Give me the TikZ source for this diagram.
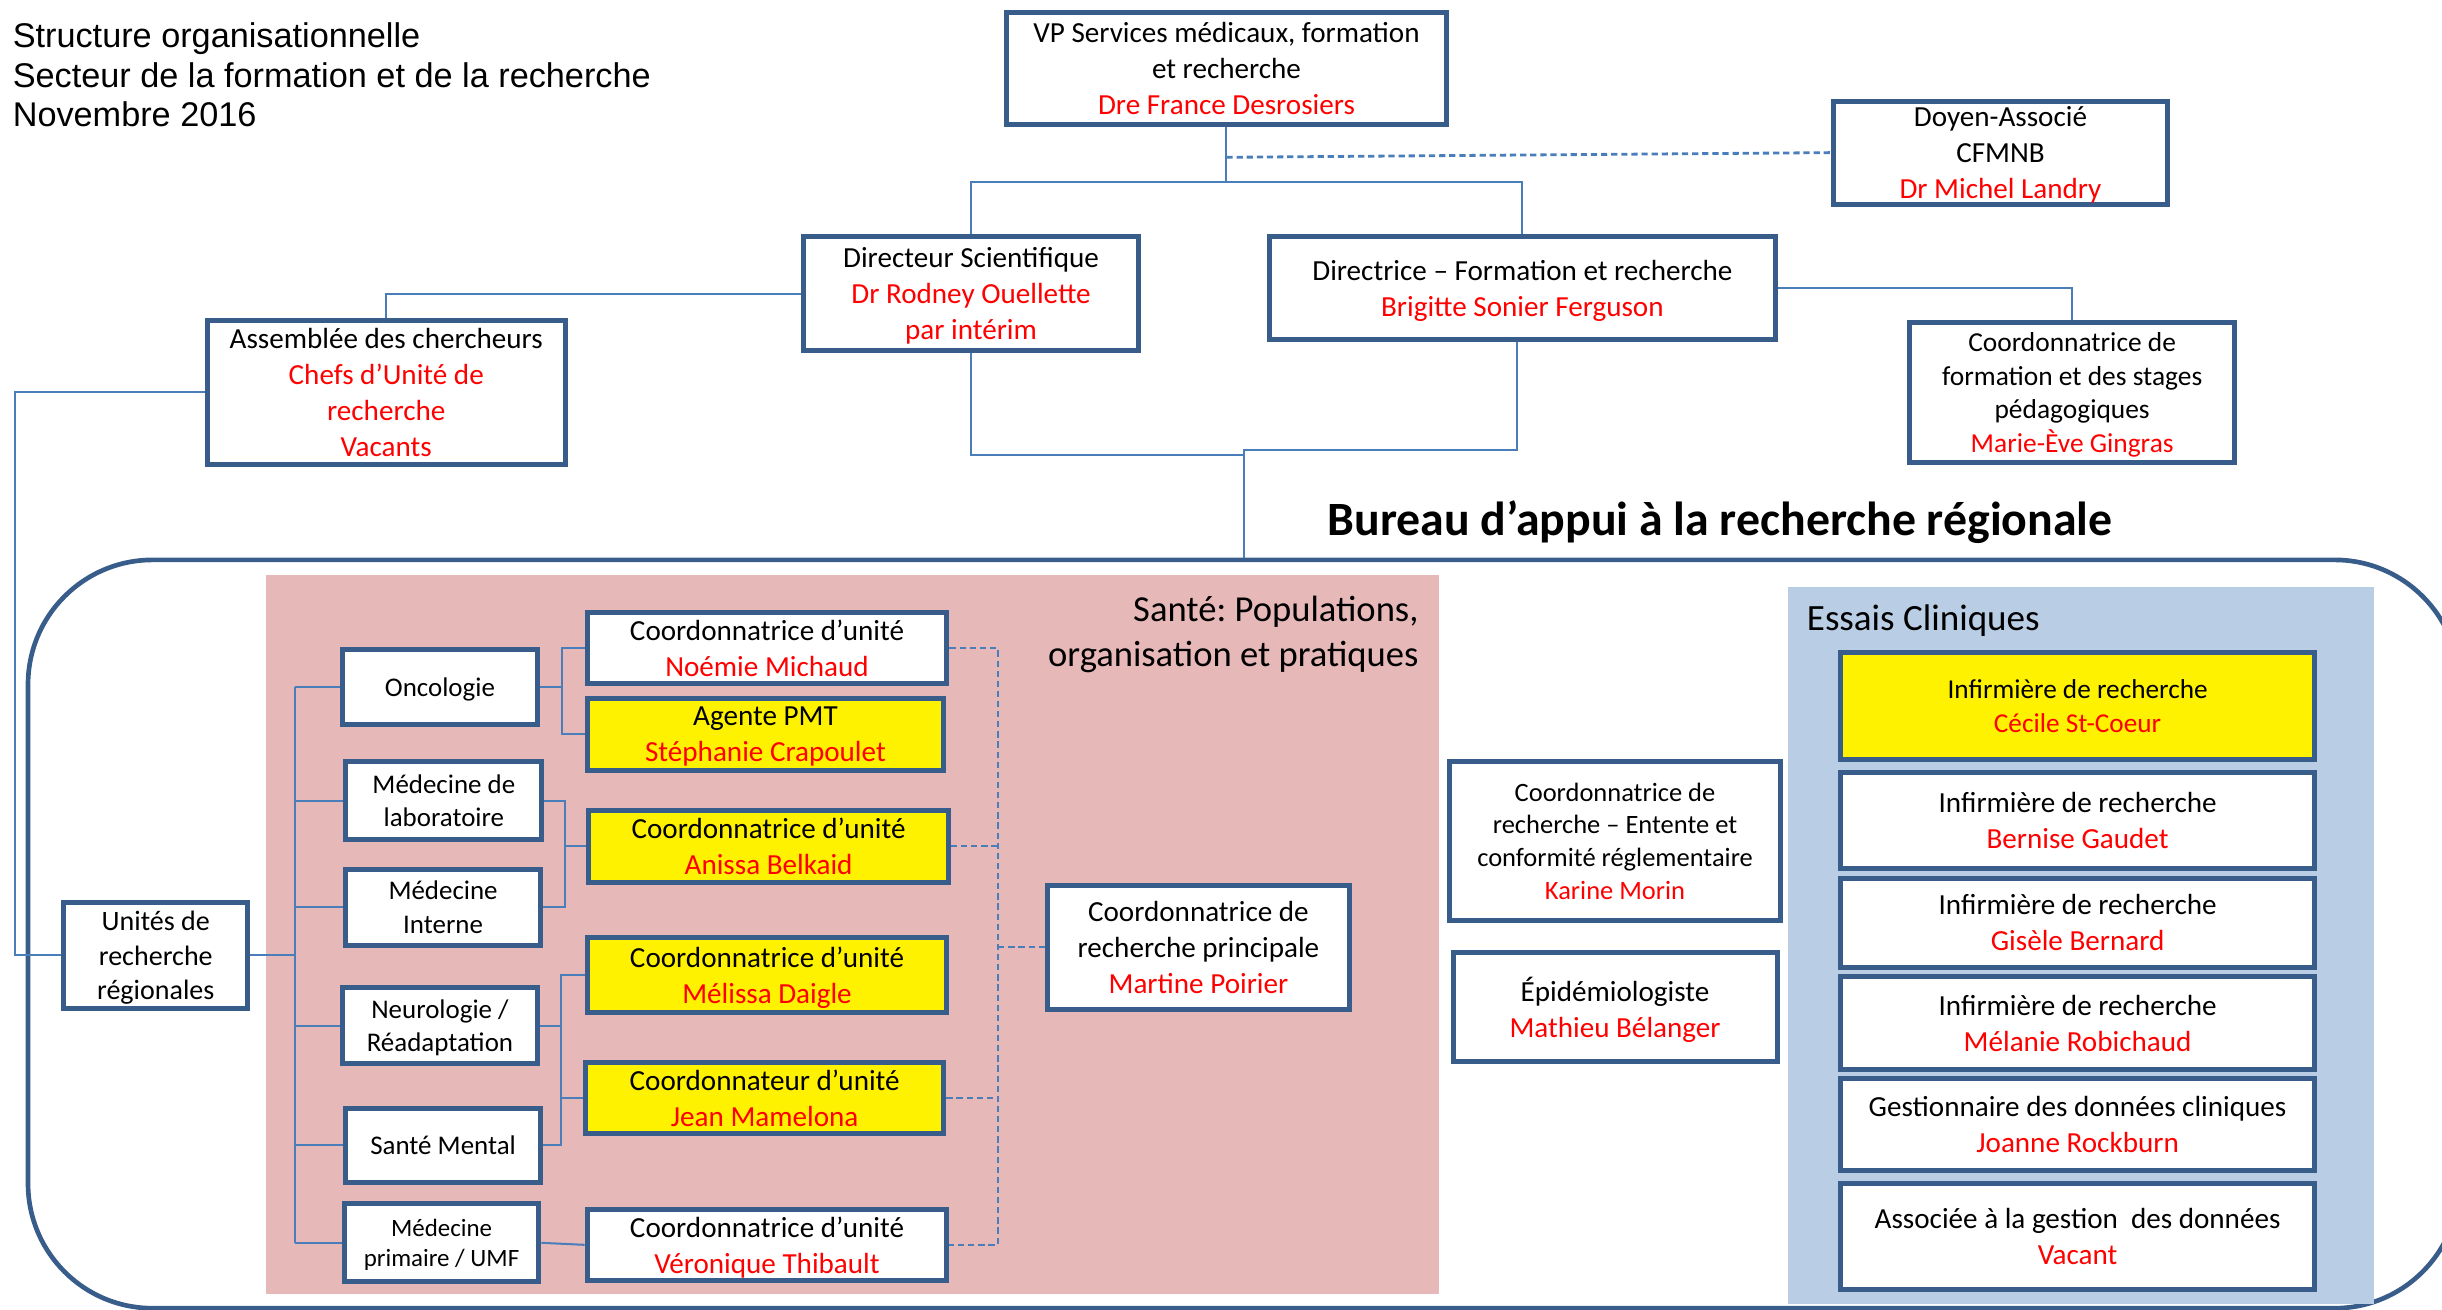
\documentclass[tikz,border=0pt]{standalone}
\usepackage{fontspec}
\setmainfont{Carlito}
\newfontfamily\arialf{Liberation Sans}
\definecolor{bordc}{HTML}{385D8A}
\definecolor{connc}{HTML}{4A7EBB}
\definecolor{pinkc}{HTML}{E6B9B8}
\definecolor{bluec}{HTML}{B9CDE5}
\newcommand{\nm}[1]{\textcolor{red}{#1}}
\pgfdeclarelayer{panel}
\pgfdeclarelayer{lines}
\pgfsetlayers{panel,lines,main}
\begin{document}
\frenchspacing
\begin{tikzpicture}[x=1pt,y=-1pt,
  basebox/.style={draw=bordc,line width=3.2pt,fill=white,inner sep=0pt,align=center,font=\fontsize{18.7}{23}\selectfont},
  box/.style={basebox,text depth=-5pt},
  sbox/.style={basebox,font=\fontsize{17.3}{21.5}\selectfont,text depth=-1pt},
  ybox/.style={box,fill=yellow},
  lbox/.style={box,font=\fontsize{17.3}{21.5}\selectfont},
  conn/.style={draw=connc,line width=1.3pt},
  dconn/.style={conn,dash pattern=on 4pt off 2.5pt},
]
\useasboundingbox (0,0) rectangle (1568,841);

% title
\node[anchor=west,align=left,inner sep=0pt,font=\arialf\fontsize{22}{25.5}\selectfont] (title) at (8,48)
  {Structure organisationnelle\\Secteur de la formation et de la recherche\\Novembre 2016};

% top boxes
\node[box,minimum width=283pt,minimum height=72pt] (vp) at (787.5,44)
  {VP Services médicaux, formation\\et recherche\\\nm{Dre France Desrosiers}};
\node[box,minimum width=215pt,minimum height=66pt] (doyen) at (1284.5,98)
  {Doyen-Associé\\CFMNB\\\nm{Dr Michel Landry}};
\node[box,minimum width=215pt,minimum height=73pt] (dirsci) at (623.5,188.5)
  {Directeur Scientifique\\\nm{Dr Rodney Ouellette}\\\nm{par intérim}};
\node[box,minimum width=325pt,minimum height=66pt] (dirf) at (977.5,185)
  {Directrice – Formation et recherche\\\nm{Brigitte Sonier Ferguson}};
\node[box,minimum width=230pt,minimum height=92pt] (assem) at (248,252)
  {Assemblée des chercheurs\\\nm{Chefs d’Unité de}\\\nm{recherche}\\\nm{Vacants}};
\node[box,minimum width=209pt,minimum height=90pt,font=\fontsize{17.6}{21.5}\selectfont] (coordf) at (1330.5,252)
  {Coordonnatrice de\\formation et des stages\\pédagogiques\\\nm{Marie-Ève Gingras}};

% bureau
\begin{pgfonlayer}{panel}
\node[draw=bordc,line width=3pt,rounded corners=80pt,minimum width=1561pt,minimum height=480.5pt,inner sep=0pt] (bureau) at (798.5,599.75) {};
\node[fill=pinkc,minimum width=753pt,minimum height=462pt,inner sep=0pt] (sante) at (547.5,600) {};
\node[fill=bluec,minimum width=376pt,minimum height=460pt,inner sep=0pt] (essais) at (1336,607) {};
\end{pgfonlayer}
\node[font=\bfseries\fontsize{30.7}{36}\selectfont,inner sep=0pt] (btitle) at (1104.5,335) {Bureau d’appui à la recherche régionale};
\node[anchor=east,align=right,inner sep=0pt,font=\fontsize{23.5}{29}\selectfont] (santetitle) at (911,407.5)
  {Santé: Populations,\\organisation et pratiques};
\node[anchor=west,inner sep=0pt,font=\fontsize{23.8}{29}\selectfont] (essaistitle) at (1160,398.5) {Essais Cliniques};

% left column
\node[lbox,font=\fontsize{18}{22}\selectfont,minimum width=118pt,minimum height=68pt] (unites) at (100,613.5)
  {Unités de\\recherche\\régionales};
\node[sbox,minimum width=125pt,minimum height=48pt] (onco) at (282.5,441) {Oncologie};
\node[lbox,minimum width=126pt,minimum height=50pt] (medlab) at (285,514) {Médecine de\\laboratoire};
\node[lbox,minimum width=125pt,minimum height=49pt] (medint) at (284.5,582.5) {Médecine\\Interne};
\node[lbox,minimum width=125pt,minimum height=49pt] (neuro) at (282.5,658.5) {Neurologie /\\Réadaptation};
\node[sbox,minimum width=125pt,minimum height=48pt] (sment) at (284.5,735.5) {Santé Mental};
\node[lbox,font=\fontsize{16}{19.5}\selectfont,minimum width=125pt,minimum height=50pt] (medprim) at (283.5,798) {Médecine\\primaire / UMF};

% right column
\node[box,minimum width=231pt,minimum height=46pt] (noemie) at (492.5,416) {Coordonnatrice d’unité\\\nm{Noémie Michaud}};
\node[ybox,minimum width=229pt,minimum height=46pt] (agente) at (491.5,471.6) {Agente PMT\\\nm{Stéphanie Crapoulet}};
\node[ybox,minimum width=231pt,minimum height=46pt] (anissa) at (493.5,543.5) {Coordonnatrice d’unité\\\nm{Anissa Belkaid}};
\node[ybox,minimum width=231pt,minimum height=48pt] (melissa) at (492.5,626) {Coordonnatrice d’unité\\\nm{Mélissa Daigle}};
\node[ybox,minimum width=230pt,minimum height=46pt] (jean) at (491,705) {Coordonnateur d’unité\\\nm{Jean Mamelona}};
\node[box,minimum width=231pt,minimum height=46pt] (veronique) at (492.5,799.3) {Coordonnatrice d’unité\\\nm{Véronique Thibault}};

\node[box,minimum width=194pt,minimum height=80pt] (martine) at (769.5,608.3)
  {Coordonnatrice de\\recherche principale\\\nm{Martine Poirier}};

% middle
\node[box,font=\fontsize{17}{21}\selectfont,minimum width=212pt,minimum height=102pt] (karine) at (1037,540)
  {Coordonnatrice de\\recherche – Entente et\\conformité réglementaire\\\nm{Karine Morin}};
\node[box,minimum width=208pt,minimum height=70pt] (epid) at (1037,646.8)
  {Épidémiologiste\\\nm{Mathieu Bélanger}};

% essais
\node[ybox,font=\fontsize{17.5}{22}\selectfont,minimum width=304pt,minimum height=69pt] (cecile) at (1334,453.4)
  {Infirmière de recherche\\\nm{Cécile St-Coeur}};
\node[box,minimum width=304pt,minimum height=62pt] (bernise) at (1334,526.8)
  {Infirmière de recherche\\\nm{Bernise Gaudet}};
\node[box,minimum width=304pt,minimum height=57pt] (gisele) at (1334,592.5)
  {Infirmière de recherche\\\nm{Gisèle Bernard}};
\node[box,minimum width=304pt,minimum height=60pt] (melanie) at (1334,657)
  {Infirmière de recherche\\\nm{Mélanie Robichaud}};
\node[box,minimum width=304pt,minimum height=59pt] (gest) at (1334,722)
  {Gestionnaire des données cliniques\\\nm{Joanne Rockburn}};
\node[box,minimum width=304pt,minimum height=68pt] (assoc) at (1334,794)
  {Associée à la gestion~ des données\\\nm{Vacant}};

% connectors
\begin{pgfonlayer}{lines}
\coordinate (j1) at (787.5,117);
\coordinate (jdash) at (787.5,101);
\draw[conn] (vp.south) -- (j1);
\draw[conn] (dirsci.north) |- (j1) -| (dirf.north);
\draw[dconn,line width=1.8pt] (jdash) -- (doyen.west);
\draw[conn] (dirsci.west) -| (assem.north);
\coordinate (c1) at (9.5,252);
\draw[conn] (assem.west) -- (c1) |- (unites.west);
\coordinate (jb1) at (798.5,292);
\coordinate (jb2) at (798.5,289);
\draw[conn] (dirsci.south) |- (jb1);
\draw[conn] ([xshift=-3.5pt]dirf.south) |- (jb2) -- (bureau.north);
\draw[conn] (dirf.east) -| (coordf.north);

% bus
\coordinate (bus) at (189.5,0);
\draw[conn] (unites.east) -- (unites.east -| bus);
\draw[conn] (onco.west -| bus) -- (medprim.west -| bus);
\foreach \n in {onco,medlab,medint,neuro,sment,medprim}
  \draw[conn] (\n.west -| bus) -- (\n.west);

\coordinate (k1) at (361,0);
\draw[conn] (noemie.west) -- (noemie.west -| k1) -- (agente.west -| k1) -- (agente.west);
\draw[conn] (onco.east) -- (onco.east -| k1);
\coordinate (k2) at (362.5,0);
\draw[conn] (medlab.east) -- (medlab.east -| k2) -- (medint.east -| k2) -- (medint.east);
\draw[conn] (anissa.west) -- (anissa.west -| k2);
\coordinate (k3) at (360,0);
\draw[conn] (melissa.west) -- (melissa.west -| k3) -- (sment.east -| k3) -- (sment.east);
\draw[conn] (neuro.east) -- (neuro.east -| k3);
\draw[conn] (jean.west) -- (jean.west -| k3);
\draw[conn] (medprim.east) -- (veronique.west);

\coordinate (k4) at (640.5,0);
\draw[dconn] (noemie.east) -- (noemie.east -| k4) -- (veronique.east -| k4) -- (veronique.east);
\draw[dconn] (anissa.east) -- (anissa.east -| k4);
\draw[dconn] (jean.east) -- (jean.east -| k4);
\draw[dconn] (martine.west) -- (martine.west -| k4);
\end{pgfonlayer}
\end{tikzpicture}
\end{document}
